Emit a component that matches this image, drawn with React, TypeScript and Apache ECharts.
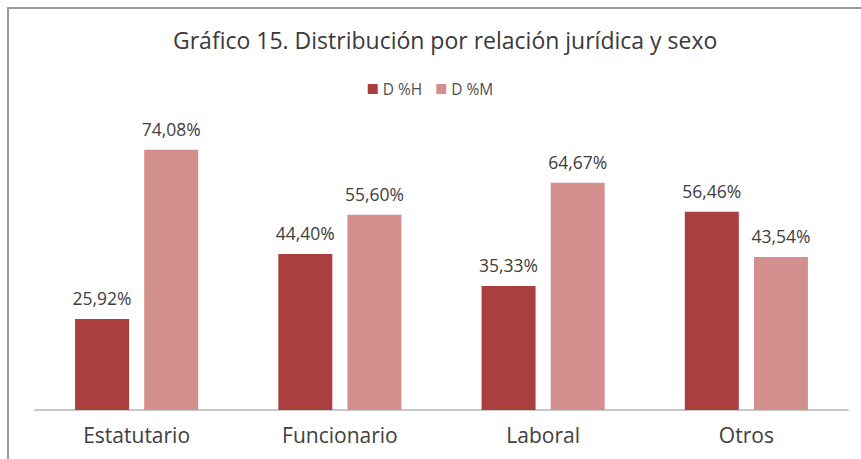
import React, { useEffect, useRef } from "react";
import * as echarts from "echarts";

const categories = ["Estatutario", "Funcionario", "Laboral", "Otros"];
const seriesNames = ["D %H", "D %M"];
const valuesH = [25.92, 44.4, 35.33, 56.46];
const valuesM = [74.08, 55.6, 64.67, 43.54];
const colors = ["#A93F3F", "#D38F8E"];

const fmt = (v: number) => v.toFixed(2).replace(".", ",") + "%";

export default function App() {
  const ref = useRef<HTMLDivElement>(null);
  useEffect(() => {
    document.body.style.margin = "0";
    const chart = echarts.init(ref.current!, null, { renderer: "svg" });
    const font = "Open Sans";
    const label = {
      show: true,
      position: "top",
      distance: 12,
      formatter: (p: any) => fmt(p.value),
      fontFamily: font,
      fontSize: 17.5,
      color: "#404040",
    };
    chart.setOption({
      animation: false,
      backgroundColor: "#ffffff",
      title: {
        text: "Gráfico 15. Distribución por relación jurídica y sexo",
        left: 168,
        top: 23,
        textStyle: { fontFamily: font, fontSize: 23, fontWeight: "normal", color: "#3a3a3a" },
      },
      legend: {
        top: 76,
        left: "center",
        itemWidth: 10,
        itemHeight: 10,
        itemGap: 14,
        icon: "rect",
        data: seriesNames,
        textStyle: { fontFamily: font, fontSize: 15.5, color: "#505050" },
      },
      grid: { left: 35, right: 13, top: 129, bottom: 49 },
      xAxis: {
        type: "category",
        data: categories,
        axisLine: { show: true, lineStyle: { color: "#c8c8c8", width: 2 } },
        axisTick: { show: false },
        axisLabel: { fontFamily: font, fontSize: 21, color: "#404040", margin: 14 },
      },
      yAxis: {
        type: "value",
        min: 0,
        max: 80,
        show: false,
        splitLine: { show: false },
      },
      graphic: [
        { type: "line", shape: { x1: 7, y1: 8, x2: 861, y2: 8 }, style: { stroke: "#9a9a9a", lineWidth: 2 } },
        { type: "line", shape: { x1: 8, y1: 7, x2: 8, y2: 459 }, style: { stroke: "#9a9a9a", lineWidth: 2 } },
      ],
      series: [
        {
          name: seriesNames[0],
          type: "bar",
          data: valuesH,
          barWidth: 54,
          barGap: "28%",
          itemStyle: { color: colors[0] },
          label,
        },
        {
          name: seriesNames[1],
          type: "bar",
          data: valuesM,
          barWidth: 54,
          itemStyle: { color: colors[1] },
          label,
        },
      ],
    });
    return () => chart.dispose();
  }, []);
  return <div ref={ref} style={{ position: "absolute", left: 0, top: 0, width: 861, height: 459 }} />;
}
